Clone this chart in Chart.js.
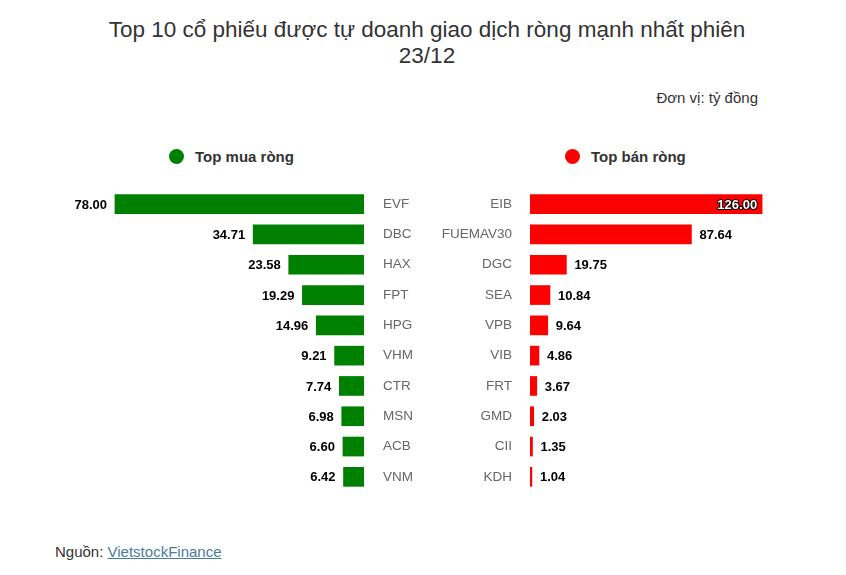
<!DOCTYPE html>
<html>
<head>
<meta charset="utf-8">
<script src="https://cdn.jsdelivr.net/npm/chart.js@4.4.1/dist/chart.umd.min.js"></script>
<style>
  body { margin: 0; background: #fff; font-family: "Liberation Sans", Arial, sans-serif; }
  #wrap { position: relative; width: 846px; height: 575px; overflow: hidden; }
  .abs { position: absolute; white-space: nowrap; }
  #title { left: 4px; width: 846px; top: 17px; text-align: center; font-size: 22.5px; line-height: 26px; color: #333; }
  #unit { right: 88px; top: 89px; font-size: 15px; line-height: 17px; color: #333; }
  .legend { top: 148px; font-size: 15px; line-height: 18px; font-weight: bold; color: #333; }
  .dot { width: 15px; height: 15px; border-radius: 50%; top: 149px; }
  #source { left: 55px; top: 543px; font-size: 15px; line-height: 17px; color: #333; }
  #source a { color: #4a7c9e; text-decoration: underline; }
  #buyBox { left: 0; top: 189px; width: 420px; height: 303px; }
  #sellBox { left: 420px; top: 189px; width: 426px; height: 303px; }
</style>
</head>
<body>
<div id="wrap">
  <div id="title" class="abs">Top 10 cổ phiếu được tự doanh giao dịch ròng mạnh nhất phiên<br>23/12</div>
  <div id="unit" class="abs">Đơn vị: tỷ đồng</div>
  <div class="abs dot" style="left:169px;background:#008000"></div>
  <div class="abs legend" style="left:195px">Top mua ròng</div>
  <div class="abs dot" style="left:565px;background:#ff0000"></div>
  <div class="abs legend" style="left:591px">Top bán ròng</div>
  <div id="buyBox" class="abs"><canvas id="buy"></canvas></div>
  <div id="sellBox" class="abs"><canvas id="sell"></canvas></div>
  <div id="source" class="abs">Nguồn: <a href="#">VietstockFinance</a></div>
</div>
<script>
const buyLabels = ['EVF', 'DBC', 'HAX', 'FPT', 'HPG', 'VHM', 'CTR', 'MSN', 'ACB', 'VNM'];
const buyValues = [78.00, 34.71, 23.58, 19.29, 14.96, 9.21, 7.74, 6.98, 6.60, 6.42];
const sellLabels = ['EIB', 'FUEMAV30', 'DGC', 'SEA', 'VPB', 'VIB', 'FRT', 'GMD', 'CII', 'KDH'];
const sellValues = [126.00, 87.64, 19.75, 10.84, 9.64, 4.86, 3.67, 2.03, 1.35, 1.04];

const FONT = '"Liberation Sans", Arial, sans-serif';

// value labels next to each bar, moved inside when they would leave the plot
const valueLabels = {
    id: 'valueLabels',
    afterDatasetsDraw(chart) {
        const ctx = chart.ctx;
        const reversed = chart.options.scales.x.reverse;
        const values = chart.data.datasets[0].data;
        ctx.save();
        ctx.font = 'bold 13px ' + FONT;
        ctx.textBaseline = 'middle';
        chart.getDatasetMeta(0).data.forEach((bar, i) => {
            const text = values[i].toFixed(2);
            const y = bar.y + 1;
            if (reversed) {
                ctx.textAlign = 'right';
                ctx.fillStyle = '#000';
                ctx.fillText(text, bar.x - 8, y);
                return;
            }
            const w = ctx.measureText(text).width;
            if (bar.x + 8 + w > chart.chartArea.right) {
                ctx.textAlign = 'right';
                ctx.lineWidth = 2;
                ctx.lineJoin = 'round';
                ctx.strokeStyle = '#000';
                ctx.strokeText(text, bar.x - 5, y);
                ctx.fillStyle = '#fff';
                ctx.fillText(text, bar.x - 5, y);
            } else {
                ctx.textAlign = 'left';
                ctx.fillStyle = '#000';
                ctx.fillText(text, bar.x + 8, y);
            }
        });
        ctx.restore();
    }
};

function makeChart(id, labels, values, color, side, max, axisWidth, pad, padRight) {
    return new Chart(document.getElementById(id), {
        type: 'bar',
        data: {
            labels: labels,
            datasets: [{
                data: values,
                backgroundColor: color,
                borderWidth: 0,
                barThickness: 19,
            }],
        },
        options: {
            indexAxis: 'y',
            responsive: true,
            maintainAspectRatio: false,
            animation: false,
            layout: { padding: { top: 0, bottom: 0, left: 0, right: padRight } },
            plugins: { legend: { display: false }, tooltip: { enabled: false } },
            scales: {
                x: {
                    display: false,
                    min: 0,
                    max: max,
                    reverse: side === 'right',
                },
                y: {
                    position: side,
                    grid: { display: false, drawTicks: false },
                    border: { display: false },
                    ticks: {
                        padding: pad,
                        color: '#666',
                        font: { family: FONT, size: 13.5 },
                    },
                    afterFit(scale) {
                        scale.width = axisWidth;
                        scale.paddingTop = 0;
                        scale.paddingBottom = 0;
                    },
                },
            },
        },
        plugins: [valueLabels],
    });
}

makeChart('buy', buyLabels, buyValues, '#008000', 'right', 114, 56, 19, 0);
makeChart('sell', sellLabels, sellValues, '#ff0000', 'left', 133, 110, 18, 71);
</script>
</body>
</html>
